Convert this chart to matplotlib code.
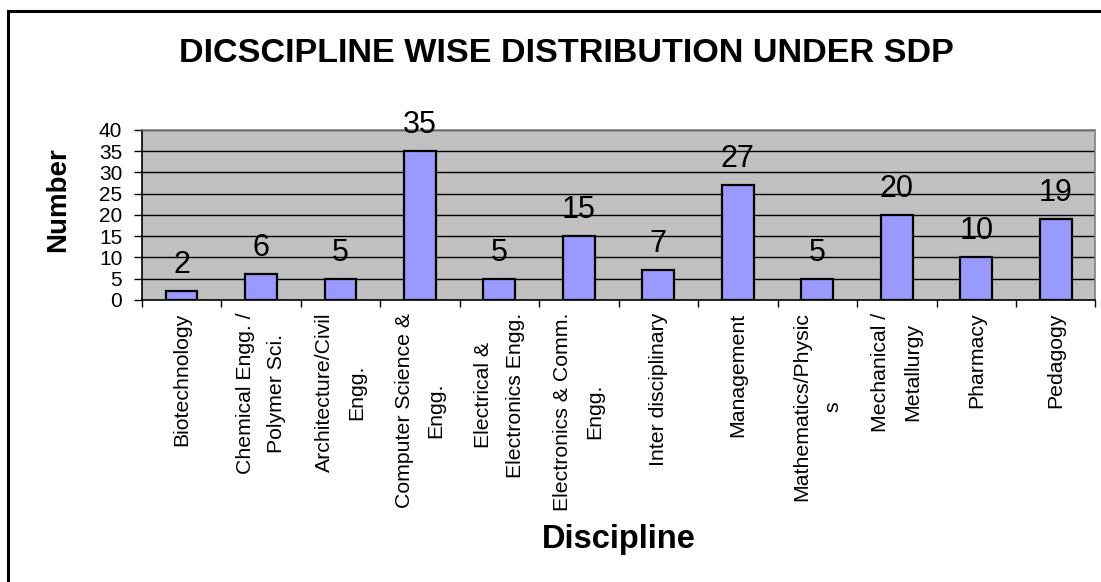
import matplotlib
matplotlib.use("Agg")
import matplotlib.pyplot as plt
from matplotlib.lines import Line2D
import numpy as np

categories = [
    "Biotechnology",
    "Chemical Engg. /\nPolymer Sci.",
    "Architecture/Civil\nEngg.",
    "Computer Science &\nEngg.",
    "Electrical &\nElectronics Engg.",
    "Electronics & Comm.\nEngg.",
    "Inter disciplinary",
    "Management",
    "Mathematics/Physic\ns",
    "Mechanical /\nMetallurgy",
    "Pharmacy",
    "Pedagogy",
]
values = [2, 6, 5, 35, 5, 15, 7, 27, 5, 20, 10, 19]
yticks = [0, 5, 10, 15, 20, 25, 30, 35, 40]

plt.rcParams['font.family'] = ['Liberation Sans', 'DejaVu Sans']

W, H = 1101, 582
fig = plt.figure(figsize=(W / 100, H / 100), dpi=100)
fig.patch.set_facecolor('white')

L, R, T, B = 141.7, 1095.5, 130, 300
ax = fig.add_axes([L / W, 1 - B / H, (R - L) / W, (B - T) / H])
ax.set_facecolor('#C0C0C0')

x = np.arange(len(categories))
ax.bar(x, values, width=0.4, color='#9999FF', edgecolor='black', linewidth=1.6, zorder=3)

ax.set_ylim(0, 40)
ax.set_xlim(-0.5, len(categories) - 0.5)
ax.set_yticks(yticks)
ax.set_yticklabels([str(t) for t in yticks], fontsize=15)
for t in yticks[1:]:
    ax.axhline(t, color='black', linewidth=1.0, zorder=1)

ax.set_xticks(x)
ax.set_xticklabels(categories, rotation=90, fontsize=15.3, ha='center', va='top',
                   multialignment='center', linespacing=1.85)
ax.tick_params(axis='x', which='major', length=0, pad=9)
ax.set_xticks(np.arange(-0.5, len(categories), 1.0), minor=True)
ax.tick_params(axis='x', which='minor', length=5, width=1, color='black', direction='out')
ax.tick_params(axis='y', length=6, width=1, color='black', direction='out', pad=8)

for s in ['top', 'right']:
    ax.spines[s].set_color('#808080')
    ax.spines[s].set_linewidth(1.2)
for s in ['left', 'bottom']:
    ax.spines[s].set_color('black')
    ax.spines[s].set_linewidth(1.2)

for xi, v in zip(x, values):
    ax.annotate(str(v), (xi, v), xytext=(0, 13), textcoords='offset points',
                ha='center', va='baseline', fontsize=22, zorder=4)

fig.text(566 / W, 1 - 61.7 / H, "DICSCIPLINE WISE DISTRIBUTION UNDER SDP",
         ha='center', va='baseline', fontsize=24.6, fontweight='bold')
fig.text(619 / W, 1 - 548 / H, "Discipline", ha='center', va='baseline',
         fontsize=23.5, fontweight='bold')
fig.text(58.5 / W, 1 - 200 / H, "Number", ha='center', va='center', rotation=90,
         fontsize=20, fontweight='bold')

# outer border (only left and top visible)
fig.add_artist(Line2D([8 / W, 8 / W], [0, 1 - 11 / H], color='black', linewidth=2.2,
                      transform=fig.transFigure))
fig.add_artist(Line2D([8 / W, 1.0], [1 - 11 / H, 1 - 11 / H], color='black', linewidth=2.2,
                      transform=fig.transFigure))

fig.savefig("out.png", dpi=100)
